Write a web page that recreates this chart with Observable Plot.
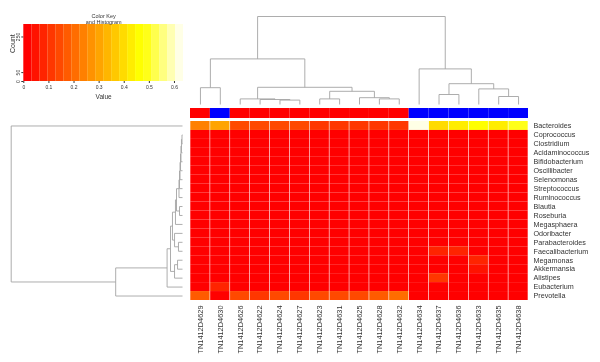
<!DOCTYPE html>
<html><head><meta charset="utf-8">
<script src="https://cdn.jsdelivr.net/npm/d3@7"></script>
<script src="https://cdn.jsdelivr.net/npm/@observablehq/plot@0.6"></script>
<style>
html,body{margin:0;padding:0;background:#fff;}
#chart{position:relative;width:600px;height:362px;overflow:hidden;background:#fff;}
#chart svg{position:absolute;left:0;top:0;background:transparent !important;overflow:visible;will-change:transform;}
</style></head><body><div id="chart"></div>
<script>
// ---- data ----
const samples = ["TN1412D4629","TN1412D4630","TN1412D4626","TN1412D4622","TN1412D4624","TN1412D4627",
  "TN1412D4623","TN1412D4631","TN1412D4625","TN1412D4628","TN1412D4632","TN1412D4634",
  "TN1412D4637","TN1412D4636","TN1412D4633","TN1412D4635","TN1412D4638"];
const sideGroups = ["A","B","A","A","A","A","A","A","A","A","A","B","B","B","B","B","B"];
const taxa = ["Bacteroides","Coprococcus","Clostridium","Acidaminococcus","Bifidobacterium","Oscillibacter",
  "Selenomonas","Streptococcus","Ruminococcus","Blautia","Roseburia","Megasphaera","Odoribacter",
  "Parabacteroides","Faecalibacterium","Megamonas","Akkermansia","Alistipes","Eubacterium","Prevotella"];
// relative abundance, rows follow taxa, columns follow samples
const values = [
  [0.24,0.31,0.15,0.15,0.14,0.15,0.10,0.11,0.12,0.10,0.12,0.63,0.39,0.42,0.47,0.44,0.48], // Bacteroides
  [0.02,0.01,0.02,0.02,0.01,0.02,0.01,0.02,0.01,0.02,0.01,0.01,0.02,0.02,0.01,0.02,0.01], // Coprococcus
  [0.01,0.01,0.01,0.02,0.01,0.01,0.01,0.01,0.01,0.01,0.01,0.01,0.01,0.01,0.01,0.01,0.01], // Clostridium
  [0.00,0.00,0.01,0.00,0.00,0.01,0.00,0.00,0.01,0.00,0.00,0.00,0.00,0.01,0.00,0.00,0.00], // Acidaminococcus
  [0.01,0.00,0.01,0.01,0.02,0.01,0.01,0.00,0.01,0.01,0.01,0.00,0.01,0.00,0.01,0.00,0.01], // Bifidobacterium
  [0.01,0.01,0.01,0.01,0.01,0.01,0.01,0.01,0.01,0.01,0.01,0.00,0.01,0.01,0.01,0.01,0.00], // Oscillibacter
  [0.00,0.00,0.00,0.01,0.00,0.00,0.00,0.01,0.00,0.00,0.00,0.00,0.00,0.00,0.00,0.00,0.00], // Selenomonas
  [0.01,0.00,0.01,0.00,0.01,0.01,0.00,0.01,0.00,0.01,0.00,0.01,0.00,0.01,0.00,0.01,0.00], // Streptococcus
  [0.02,0.01,0.02,0.01,0.02,0.02,0.01,0.02,0.02,0.01,0.02,0.01,0.02,0.01,0.02,0.01,0.02], // Ruminococcus
  [0.02,0.02,0.02,0.02,0.01,0.02,0.02,0.02,0.01,0.02,0.02,0.01,0.01,0.02,0.02,0.01,0.01], // Blautia
  [0.01,0.02,0.02,0.01,0.02,0.01,0.02,0.01,0.02,0.02,0.01,0.01,0.01,0.01,0.01,0.02,0.01], // Roseburia
  [0.00,0.01,0.00,0.00,0.01,0.00,0.01,0.00,0.00,0.01,0.00,0.00,0.01,0.00,0.00,0.01,0.00], // Megasphaera
  [0.01,0.01,0.01,0.01,0.01,0.01,0.02,0.01,0.01,0.01,0.01,0.02,0.01,0.01,0.02,0.01,0.01], // Odoribacter
  [0.01,0.02,0.01,0.01,0.02,0.01,0.01,0.02,0.01,0.01,0.01,0.02,0.02,0.02,0.02,0.03,0.02], // Parabacteroides
  [0.02,0.02,0.02,0.02,0.02,0.02,0.02,0.02,0.02,0.02,0.02,0.02,0.09,0.08,0.02,0.03,0.02], // Faecalibacterium
  [0.01,0.01,0.01,0.01,0.01,0.01,0.01,0.01,0.01,0.01,0.01,0.01,0.01,0.02,0.08,0.01,0.01], // Megamonas
  [0.01,0.01,0.01,0.01,0.01,0.01,0.01,0.01,0.01,0.01,0.01,0.01,0.02,0.01,0.05,0.01,0.01], // Akkermansia
  [0.02,0.02,0.01,0.02,0.02,0.01,0.02,0.01,0.02,0.02,0.02,0.02,0.11,0.02,0.03,0.02,0.02], // Alistipes
  [0.02,0.07,0.02,0.02,0.02,0.02,0.02,0.02,0.02,0.02,0.02,0.01,0.02,0.01,0.02,0.01,0.02], // Eubacterium
  [0.17,0.02,0.13,0.12,0.13,0.12,0.13,0.14,0.13,0.18,0.22,0.02,0.01,0.02,0.01,0.02,0.01]  // Prevotella
];
const valueMax = 0.636;
const keyTicks = [0, 0.1, 0.2, 0.3, 0.4, 0.5, 0.6];
const countTicks = [0, 50, 250];
const countMax = 320;
// column dendrogram: [mergeHeight, left, right], leaves = sample index
const colTree = [2.2,
  [1.14, [0.42, 0, 1],
         [0.43, [0.14, 2, [0.125, 3, [0.11, 4, 5]]],
                [0.33, [0.14, 6, 7], [0.17, 8, [0.14, 9, 10]]]]],
  [0.89, 11, [0.52, [0.25, 12, 13], [0.39, 14, [0.2, 15, 16]]]]];
// row dendrogram: leaves = taxon index
const rowTree = [2.0, 0,
  [0.78,
    [0.18,
      [0.14,
        [0.117,
          [0.082,
            [0.07,
              [0.041,[0.035,[0.029,[0.023,[0.018,[0.012,[0.006,1,2],3],4],5],6],7],8],
              [0.035, 9, 10]],
            11],
          [0.093, 12, [0.047, 13, 14]]],
        [0.093, [0.058, 15, 16], 17]],
      18],
    19]];

// ---- helpers ----
const nColors = 20;
const heatColors = (() => {
  const j = Math.floor(nColors / 4), i = nColors - j, out = [];
  for (let k = 0; k < i; k++) out.push(`rgb(255,${Math.round(255 * k / (i - 1))},0)`);
  for (let k = 0; k < j; k++) {
    const s = (1 - 1 / (2 * j)) - k * ((1 - 1 / j) / (j - 1));
    out.push(`rgb(255,255,${Math.round(255 * (1 - s))})`);
  }
  return out;
})();
const breaks = d3.range(nColors + 1).map(k => valueMax * k / nColors);
const colorScale = {type: "threshold", domain: breaks.slice(1, -1), range: heatColors};

function dendroSegments(tree) {
  const segs = [];
  (function walk(node) {
    if (typeof node === "number") return {pos: node + 0.5, h: 0};
    const [h, l, r] = node;
    const a = walk(l), b = walk(r);
    segs.push({p1: a.pos, h1: a.h, p2: a.pos, h2: h});
    segs.push({p1: b.pos, h1: b.h, p2: b.pos, h2: h});
    segs.push({p1: a.pos, h1: h, p2: b.pos, h2: h});
    return {pos: (a.pos + b.pos) / 2, h};
  })(tree);
  return segs;
}

const W = 600, H = 362;
const font = "'Liberation Sans', Arial, Helvetica, sans-serif";
const baseStyle = {background: "transparent", fontFamily: font, color: "#333", overflow: "visible"};
const chart = document.getElementById("chart");
const hmLeft = 190, hmRight = 528, hmTop = 121, hmBottom = 300;

const cells = taxa.flatMap((t, i) => samples.map((s, j) => ({taxon: t, sample: s, value: values[i][j]})));

// heatmap
chart.append(Plot.plot({
  width: W, height: H, style: baseStyle,
  marginLeft: hmLeft, marginRight: W - hmRight, marginTop: hmTop, marginBottom: H - hmBottom,
  x: {type: "band", domain: samples, padding: 0, round: false},
  y: {type: "band", domain: taxa, padding: 0, round: false},
  color: colorScale,
  marks: [
    Plot.cell(cells, {x: "sample", y: "taxon", fill: "value", insetLeft: 0.3, insetRight: 0.3}),
    Plot.axisY({anchor: "right", tickSize: 0, tickPadding: 5, fontSize: 7.2, label: null, fill: "#333"}),
    Plot.axisX({anchor: "bottom", tickSize: 0, tickPadding: 5, tickRotate: -90, fontSize: 7.4, label: null, fill: "#333"})
  ]
}));

// column side colour bar
chart.append(Plot.plot({
  width: W, height: H, style: baseStyle,
  marginLeft: hmLeft, marginRight: W - hmRight, marginTop: 108, marginBottom: H - 118,
  x: {type: "band", domain: samples, padding: 0, round: false, axis: null},
  y: {type: "band", domain: ["side"], padding: 0, round: false, axis: null},
  color: {domain: ["A", "B"], range: ["#ff0000", "#0000ff"]},
  marks: [Plot.cell(samples.map((s, i) => ({sample: s, group: sideGroups[i]})),
    {x: "sample", y: () => "side", fill: "group"})]
}));

// column dendrogram
chart.append(Plot.plot({
  width: W, height: H, style: baseStyle,
  marginLeft: hmLeft, marginRight: W - hmRight, marginTop: 16, marginBottom: H - 104,
  x: {type: "linear", domain: [0, samples.length], axis: null},
  y: {type: "linear", domain: [0, colTree[0]], axis: null},
  marks: [Plot.link(dendroSegments(colTree), {x1: "p1", y1: "h1", x2: "p2", y2: "h2", stroke: "#a4a4a4", strokeWidth: 0.9})]
}));

// row dendrogram
chart.append(Plot.plot({
  width: W, height: H, style: baseStyle,
  marginLeft: 10.7, marginRight: W - 182, marginTop: hmTop, marginBottom: H - hmBottom,
  x: {type: "linear", domain: [0, rowTree[0]], reverse: true, axis: null},
  y: {type: "linear", domain: [0, taxa.length], reverse: true, axis: null},
  marks: [Plot.link(dendroSegments(rowTree), {x1: "h1", y1: "p1", x2: "h2", y2: "p2", stroke: "#a4a4a4", strokeWidth: 0.9})]
}));

// colour key
const keyBins = heatColors.map((c, k) => ({x1: breaks[k], x2: breaks[k + 1], mid: (breaks[k] + breaks[k + 1]) / 2}));
chart.append(Plot.plot({
  width: W, height: H, style: baseStyle,
  marginLeft: 23.3, marginRight: W - 183, marginTop: 24, marginBottom: H - 81,
  x: {type: "linear", domain: [0, valueMax]},
  y: {type: "linear", domain: [0, countMax]},
  color: colorScale,
  marks: [
    Plot.rect(keyBins, {x1: "x1", x2: "x2", y1: 0, y2: countMax, fill: "mid"}),
    Plot.axisX({ticks: keyTicks, tickFormat: d => String(d), tickSize: 2, tickPadding: 2, fontSize: 5, label: null}),
    Plot.axisY({ticks: countTicks, tickFormat: d => String(d), tickSize: 2, tickPadding: 2, tickRotate: -90, fontSize: 5, label: null}),
    Plot.text(["Value"], {frameAnchor: "bottom", lineAnchor: "middle", dy: 15, fontSize: 6.5, fill: "#333"}),
    Plot.text(["Count"], {frameAnchor: "left", lineAnchor: "middle", rotate: -90, dx: -11, fontSize: 7, fill: "#333"}),
    Plot.text(["Color Key"], {frameAnchor: "top", lineAnchor: "middle", dy: -8.3, fontSize: 5.5, fill: "#333"}),
    Plot.text(["and Histogram"], {frameAnchor: "top", lineAnchor: "middle", dy: -2, fontSize: 5.5, fill: "#333"})
  ]
}));
</script></body></html>
